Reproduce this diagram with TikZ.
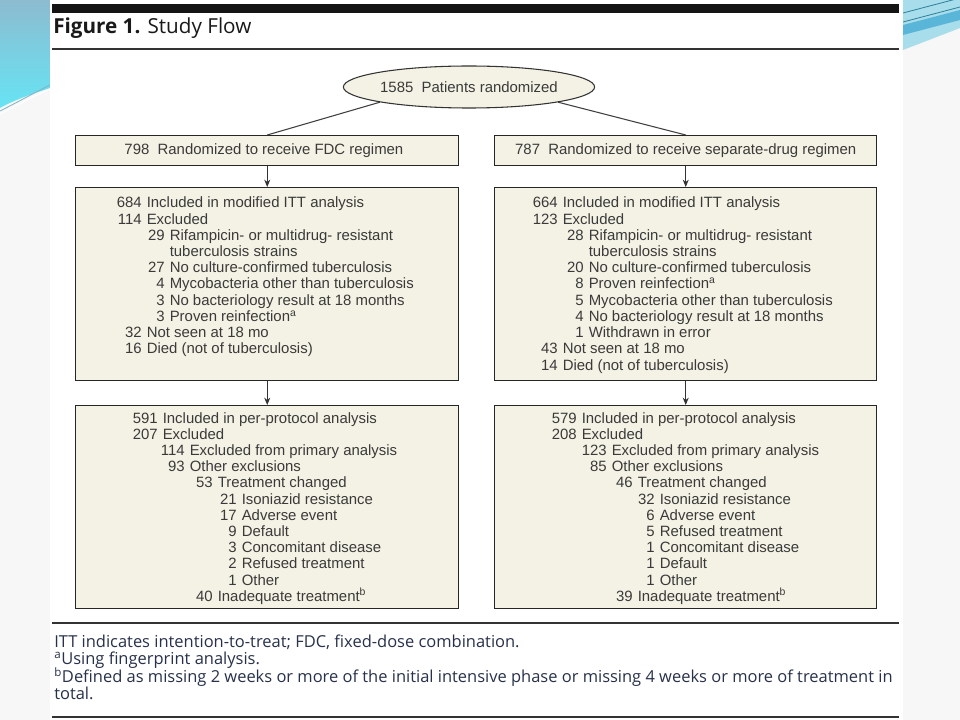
\documentclass[tikz,border=0pt]{standalone}
\usepackage{fontspec}
\setmainfont{Open Sans}
\newfontfamily\arialf{Liberation Sans}
\usetikzlibrary{arrows.meta,shapes.geometric}
\definecolor{beige}{HTML}{F4F2E4}
\definecolor{boxtxt}{HTML}{3A3A3A}
\definecolor{noteblue}{HTML}{27314A}
\definecolor{slidebg}{HTML}{F7F7F7}
\definecolor{decotop}{HTML}{8DBBD0}
\definecolor{decobot}{HTML}{66E4F4}
\definecolor{rlight}{HTML}{A8DDEB}
\definecolor{rblue}{HTML}{5AB6D8}
\definecolor{rline}{HTML}{2E7F99}
\newcommand\bl[5]{%
  \node[bt,anchor=base east] (#1n) at (#2,#3) {#4};
  \node[bt,anchor=base west] (#1t) at (#2+4.5,#3) {#5};}
\begin{document}
\begin{tikzpicture}[x=0.75pt,y=-0.75pt,
  bt/.style={font=\arialf\fontsize{11.2}{12.15}\selectfont,text=boxtxt,inner sep=0pt},
  box/.style={draw=black!85,line width=1.1pt,fill=beige,inner sep=0pt,anchor=north west},
  conn/.style={draw=black!75,line width=0.8pt},
  arr/.style={draw=black!80,line width=0.8pt,-{Stealth[length=5.5pt,width=4.5pt]}},
  note/.style={font=\fontsize{12.35}{13}\selectfont,text=noteblue,inner sep=0pt,anchor=base west},
  rule/.style={draw=black!80,line width=1.1pt}]
\useasboundingbox (0,0) rectangle (960,720);
% slide background
\fill[slidebg] (0,0) rectangle (960,720);
\shade[top color=decotop,bottom color=decobot] (0,0) -- (50,0) -- (50,88) .. controls (32,94) and (14,100) .. (0,108) -- cycle;
\draw[rline!60,line width=0.6pt] (0,111) .. controls (16,103) and (32,94) .. (50,85);
\draw[white,line width=0.8pt] (0,114) .. controls (16,106) and (32,97) .. (50,89);
\fill[rlight] (903,0) -- (960,0) -- (960,28) -- (903,50) -- cycle;
\fill[rblue] (903,25) -- (960,10) -- (960,20) -- (903,35) -- cycle;
\draw[rline,line width=0.6pt] (903,13) -- (960,-2);
\draw[rline,line width=0.6pt] (903,22) -- (960,7);
% page
\fill[white] (50,0) rectangle (903,720);
\fill[black!92] (52,4) rectangle (899,12.7);
\node[anchor=base west,inner sep=0pt,font=\fontsize{15.5}{18}\selectfont,text=black!90] (title) at (53,34) {\textbf{Figure 1.} Study Flow};
\draw[rule] (52,49) -- (899,49);
% ellipse
\node[ellipse,draw=black!80,line width=0.8pt,fill=beige,minimum width=181.5pt,minimum height=31.5pt,inner sep=0pt,bt] (ell) at (469,87) {1585\ \ Patients randomized};
% row 1
\node[box,minimum width=287.25pt,minimum height=22.5pt] (r1l) at (75,135) {};
\node[bt] (r1lt) at ([xshift=-2.5pt]r1l.center) {798\ \ Randomized to receive FDC regimen};
\node[box,minimum width=286.5pt,minimum height=22.5pt] (r1r) at (494,135) {};
\node[bt] (r1rt) at (r1r.center) {787\ \ Randomized to receive separate-drug regimen};
% row 2
\node[box,minimum width=287.25pt,minimum height=144.75pt] (r2l) at (75,187) {};
\node[box,minimum width=286.5pt,minimum height=144.75pt] (r2r) at (494,187) {};
% row 3
\node[box,minimum width=287.25pt,minimum height=152.25pt] (r3l) at (75,405) {};
\node[box,minimum width=286.5pt,minimum height=152.25pt] (r3r) at (494,405) {};
% connectors
\draw[conn] (ell.south west) -- (r1l.north);
\draw[conn] (ell.south east) -- (r1r.north);
\draw[arr] (r1l.south) -- (r2l.north);
\draw[arr] (r1r.south) -- (r2r.north);
\draw[arr] (r2l.south) -- (r3l.north);
\draw[arr] (r2r.south) -- (r3r.north);
% left row 2
\bl{a1}{142}{208}{684}{Included in modified ITT analysis}
\bl{a2}{142}{224.2}{114}{Excluded}
\bl{a3}{165}{240.4}{29}{Rifampicin- or multidrug- resistant}
\bl{a4}{165}{256.6}{}{tuberculosis strains}
\bl{a5}{165}{272.8}{27}{No culture-confirmed tuberculosis}
\bl{a6}{165}{289}{4}{Mycobacteria other than tuberculosis}
\bl{a7}{165}{305.2}{3}{No bacteriology result at 18 months}
\bl{a8}{165}{321.4}{3}{Proven reinfection\textsuperscript{a}}
\bl{a9}{142}{337.6}{32}{Not seen at 18 mo}
\bl{a10}{142}{353.8}{16}{Died (not of tuberculosis)}
% right row 2
\bl{b1}{558}{208}{664}{Included in modified ITT analysis}
\bl{b2}{558}{224.2}{123}{Excluded}
\bl{b3}{584}{240.4}{28}{Rifampicin- or multidrug- resistant}
\bl{b4}{584}{256.6}{}{tuberculosis strains}
\bl{b5}{584}{272.8}{20}{No culture-confirmed tuberculosis}
\bl{b6}{584}{289}{8}{Proven reinfection\textsuperscript{a}}
\bl{b7}{584}{305.2}{5}{Mycobacteria other than tuberculosis}
\bl{b8}{584}{321.4}{4}{No bacteriology result at 18 months}
\bl{b9}{584}{337.6}{1}{Withdrawn in error}
\bl{b10}{558}{353.8}{43}{Not seen at 18 mo}
\bl{b11}{558}{370}{14}{Died (not of tuberculosis)}
% left row 3
\bl{c1}{158}{423}{591}{Included in per-protocol analysis}
\bl{c2}{158}{439.2}{207}{Excluded}
\bl{c3}{185}{455.4}{114}{Excluded from primary analysis}
\bl{c4}{185}{471.6}{93}{Other exclusions}
\bl{c5}{213}{487.8}{53}{Treatment changed}
\bl{c6}{237}{504}{21}{Isoniazid resistance}
\bl{c7}{237}{520.2}{17}{Adverse event}
\bl{c8}{237}{536.4}{9}{Default}
\bl{c9}{237}{552.6}{3}{Concomitant disease}
\bl{c10}{237}{568.8}{2}{Refused treatment}
\bl{c11}{237}{585}{1}{Other}
\bl{c12}{213}{601.2}{40}{Inadequate treatment\textsuperscript{b}}
% right row 3
\bl{d1}{577}{423}{579}{Included in per-protocol analysis}
\bl{d2}{577}{439.2}{208}{Excluded}
\bl{d3}{607}{455.4}{123}{Excluded from primary analysis}
\bl{d4}{607}{471.6}{85}{Other exclusions}
\bl{d5}{633}{487.8}{46}{Treatment changed}
\bl{d6}{655}{504}{32}{Isoniazid resistance}
\bl{d7}{655}{520.2}{6}{Adverse event}
\bl{d8}{655}{536.4}{5}{Refused treatment}
\bl{d9}{655}{552.6}{1}{Concomitant disease}
\bl{d10}{655}{568.8}{1}{Default}
\bl{d11}{655}{585}{1}{Other}
\bl{d12}{633}{601.2}{39}{Inadequate treatment\textsuperscript{b}}
% footnotes
\draw[rule] (52,623) -- (899,623);
\node[note] (n1) at (54,647) {ITT indicates intention-to-treat; FDC, fixed-dose combination.};
\node[note] (n2) at (54,664.5) {\textsuperscript{a}Using fingerprint analysis.};
\node[note] (n3) at (54,682) {\textsuperscript{b}Defined as missing 2 weeks or more of the initial intensive phase or missing 4 weeks or more of treatment in};
\node[note] (n4) at (54,699.5) {total.};
\draw[rule] (52,717) -- (899,717);
\end{tikzpicture}
\end{document}
